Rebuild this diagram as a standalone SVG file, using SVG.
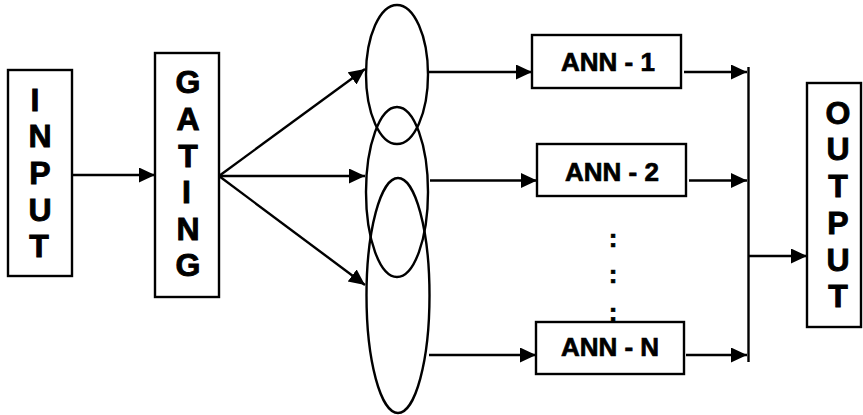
<svg xmlns="http://www.w3.org/2000/svg" width="863" height="415" viewBox="0 0 863 415">
<defs>
<marker id="ah" markerUnits="userSpaceOnUse" markerWidth="17" markerHeight="16" refX="16" refY="7.5" orient="auto">
<path d="M0,0 L16,7.5 L0,15 z" fill="#000"/>
</marker>
<style>
.box{fill:#fff;stroke:#000;stroke-width:2.4}
.ell{fill:none;stroke:#000;stroke-width:2.4}
.ln{fill:none;stroke:#000;stroke-width:2.4}
.arr{fill:none;stroke:#000;stroke-width:2.4;marker-end:url(#ah)}
.big{font-family:"Liberation Sans",Arial,sans-serif;font-weight:bold;font-size:32px;text-anchor:middle;fill:#000;stroke:#000;stroke-width:0.9}
.lab{font-family:"Liberation Sans",Arial,sans-serif;font-weight:bold;font-size:26px;text-anchor:middle;fill:#000;stroke:#000;stroke-width:0.7}
</style>
</defs>
<g id="input">
<rect class="box" x="8" y="70" width="64" height="206"/>
<text class="big" x="35" y="111">I</text>
<text class="big" x="40" y="147">N</text>
<text class="big" x="40" y="184">P</text>
<text class="big" x="40" y="220.5">U</text>
<text class="big" x="39" y="257">T</text>
</g>
<g id="gating">
<rect class="box" x="155" y="53" width="64" height="244"/>
<text class="big" x="188" y="93">G</text>
<text class="big" x="188" y="130">A</text>
<text class="big" x="188" y="166.5">T</text>
<text class="big" x="186.5" y="203">I</text>
<text class="big" x="188" y="239.5">N</text>
<text class="big" x="188" y="276">G</text>
</g>
<g id="experts">
<ellipse class="ell" cx="397" cy="74.5" rx="31" ry="69.5"/>
<ellipse class="ell" cx="397" cy="192" rx="31" ry="85"/>
<ellipse class="ell" cx="398" cy="295.5" rx="31.5" ry="117.5"/>
</g>
<g id="ann1">
<rect class="box" x="532" y="35" width="149" height="53"/>
<text class="lab" x="608" y="71">ANN - 1</text>
</g>
<g id="ann2">
<rect class="box" x="537" y="144" width="149" height="52"/>
<text class="lab" x="612" y="180.5">ANN - 2</text>
</g>
<g id="dots">
<text class="lab" x="613" y="246.5" font-size="27">:</text>
<text class="lab" x="613" y="283" font-size="27">:</text>
<text class="lab" x="613" y="320.5" font-size="27">:</text>
</g>
<g id="annN">
<rect class="box" x="536" y="322" width="148" height="52"/>
<text class="lab" x="610" y="356">ANN - N</text>
</g>
<g id="output">
<rect class="box" x="807" y="83" width="54" height="244"/>
<text class="big" x="838" y="123.5">O</text>
<text class="big" x="838" y="160">U</text>
<text class="big" x="838" y="197">T</text>
<text class="big" x="838" y="233.5">P</text>
<text class="big" x="838" y="270.5">U</text>
<text class="big" x="838" y="307">T</text>
</g>
<g id="connectors">
<line class="arr" x1="72" y1="175" x2="155" y2="175"/>
<line class="arr" x1="219" y1="176" x2="365" y2="69"/>
<line class="arr" x1="219" y1="176" x2="365" y2="176"/>
<line class="arr" x1="219" y1="176" x2="365" y2="285"/>
<line class="arr" x1="428" y1="72" x2="532" y2="72"/>
<line class="arr" x1="430" y1="180.5" x2="537" y2="180.5"/>
<line class="arr" x1="429" y1="355" x2="536" y2="355"/>
<line class="arr" x1="684" y1="72" x2="747" y2="72"/>
<line class="arr" x1="689" y1="180.5" x2="747" y2="180.5"/>
<line class="arr" x1="686" y1="355" x2="747" y2="355"/>
<line class="ln" x1="748.5" y1="67" x2="748.5" y2="362"/>
<line class="arr" x1="748.5" y1="256" x2="807" y2="256"/>
</g>
</svg>
